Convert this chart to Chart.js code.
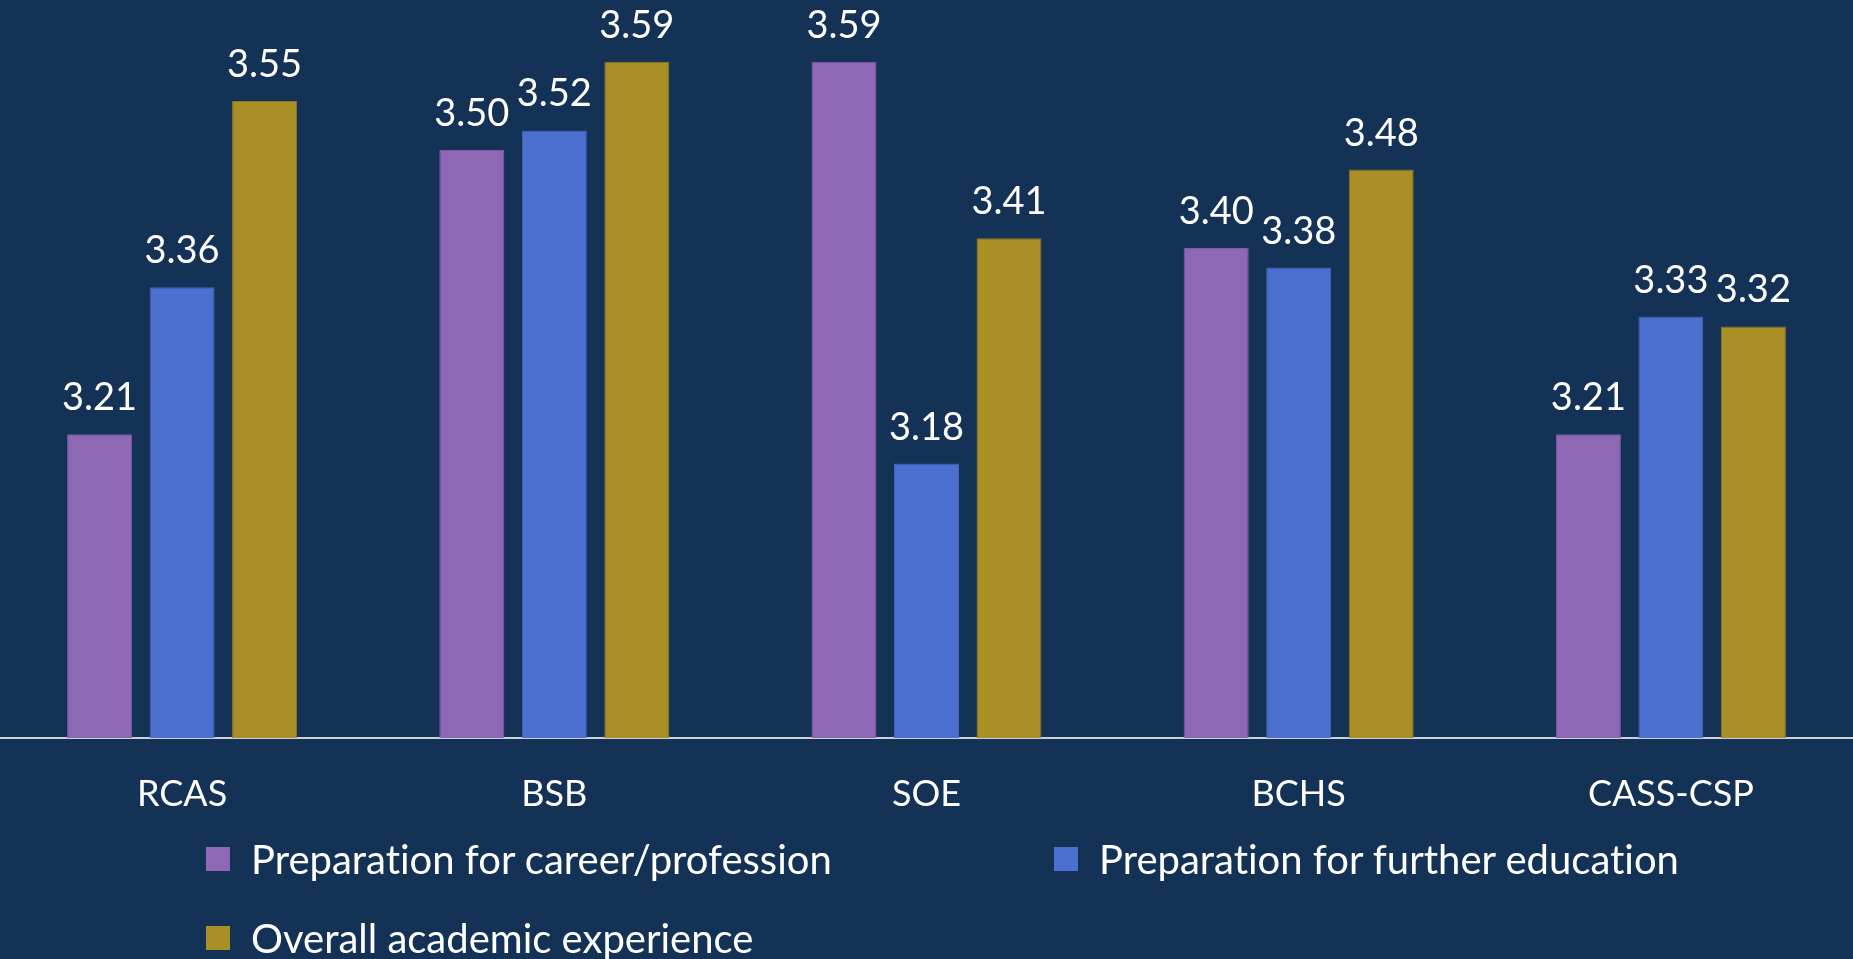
<!DOCTYPE html>
<html>
<head>
<meta charset="utf-8">
<script src="https://cdn.jsdelivr.net/npm/chart.js@4"></script>
<style>
  html, body { margin:0; padding:0; width:1853px; height:959px; overflow:hidden; background:#133256; }
  #wrap { position:absolute; left:-4px; top:0; width:1861px; height:959px; }
  #legend { position:absolute; left:0; top:0; width:1853px; height:959px; pointer-events:none; }
  .item { position:absolute; display:flex; align-items:center; height:44px; font-family:Lato, sans-serif; font-size:40px; color:#ffffff; white-space:nowrap; font-variant-ligatures:none; font-feature-settings:"liga" 0, "clig" 0; }
  .box { width:24px; height:24px; margin-right:21px; flex:none; }
</style>
</head>
<body>
<div id="wrap"><canvas id="c"></canvas></div>
<div id="legend"></div>
<script>
const categories = ["RCAS", "BSB", "SOE", "BCHS", "CASS-CSP"];
const seriesNames = ["Preparation for career/profession", "Preparation for further education", "Overall academic experience"];
const careerValues = [3.21, 3.50, 3.59, 3.40, 3.21];
const furtherValues = [3.36, 3.52, 3.18, 3.38, 3.33];
const overallValues = [3.55, 3.59, 3.41, 3.48, 3.32];
const seriesColors = ["#8E68B4", "#4B70CF", "#AA8E26"];
const seriesBorders = ["#7E5BA6", "#4565BD", "#8E7720"];

const valueLabels = {
  id: 'valueLabels',
  afterDatasetsDraw(chart) {
    const ctx = chart.ctx;
    ctx.save();
    ctx.fillStyle = '#ffffff';
    ctx.font = '38px Lato, sans-serif';
    ctx.textAlign = 'center';
    ctx.textBaseline = 'alphabetic';
    chart.data.datasets.forEach((ds, i) => {
      const meta = chart.getDatasetMeta(i);
      meta.data.forEach((el, j) => {
        ctx.fillText(ds.data[j].toFixed(2), el.x, el.y - 24);
      });
    });
    ctx.restore();
  }
};

const seriesData = [careerValues, furtherValues, overallValues];

new Chart(document.getElementById('c'), {
  type: 'bar',
  data: {
    labels: categories,
    datasets: seriesData.map((d, i) => ({
      label: seriesNames[i],
      data: d,
      backgroundColor: seriesColors[i],
      borderColor: seriesBorders[i],
      borderWidth: 1,
      categoryPercentage: 0.665,
      barPercentage: 0.788
    }))
  },
  options: {
    responsive: true,
    maintainAspectRatio: false,
    animation: false,
    layout: { padding: { top: 52, left: 0, right: 0, bottom: 0 } },
    plugins: { legend: { display: false }, tooltip: { enabled: false } },
    scales: {
      x: {
        grid: { display: false, drawTicks: false },
        border: { display: true, color: 'rgba(214,218,224,0.95)', width: 2 },
        ticks: { color: '#ffffff', font: { family: 'Lato', size: 36 }, padding: 35 },
        afterFit(scale) { scale.height = 221; }
      },
      y: {
        display: false,
        min: 2.9,
        max: 3.6
      }
    }
  },
  plugins: [valueLabels]
});

const legendPos = [
  { left: 206, top: 837 },
  { left: 1054, top: 837 },
  { left: 206, top: 916 }
];
const legendEl = document.getElementById('legend');
seriesNames.forEach((name, i) => {
  const it = document.createElement('div');
  it.className = 'item';
  it.style.left = legendPos[i].left + 'px';
  it.style.top = legendPos[i].top + 'px';
  const b = document.createElement('span');
  b.className = 'box';
  b.style.background = seriesColors[i];
  const t = document.createElement('span');
  t.textContent = name;
  it.appendChild(b);
  it.appendChild(t);
  legendEl.appendChild(it);
});
</script>
</body>
</html>
